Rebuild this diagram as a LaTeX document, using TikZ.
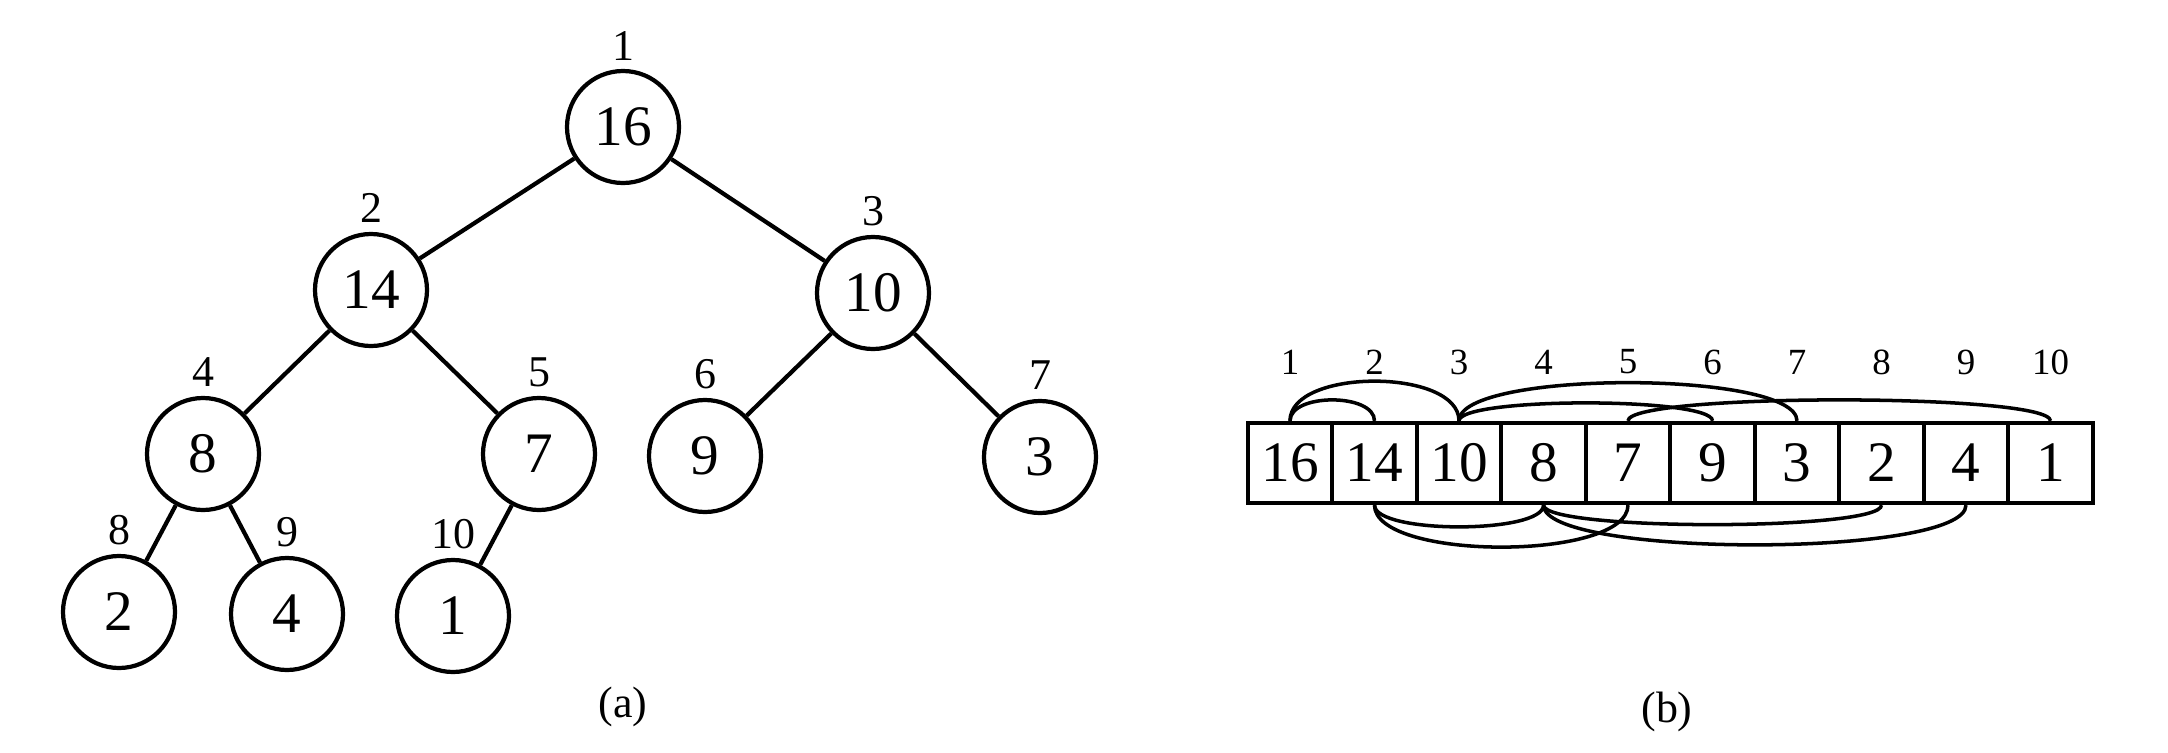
\documentclass[tikz,border=0pt]{standalone}
\usepackage{fontspec}
\setmainfont{Liberation Serif}
\usetikzlibrary{positioning}

\begin{document}
\begin{tikzpicture}[
  x=0.1mm, y=0.1mm, on grid,
  vertex/.style={draw, circle, line width=1.2pt, minimum size=11.2mm, inner sep=0pt,
    font=\fontsize{16.3}{18}\selectfont},
  cell/.style={draw, line width=1.2pt, minimum width=8.45mm, minimum height=8mm, inner sep=0pt,
    font=\fontsize{16.3}{18}\selectfont},
  tidx/.style={inner sep=0pt, font=\fontsize{12.5}{14}\selectfont},
  aidx/.style={inner sep=0pt, font=\fontsize{10.5}{12}\selectfont},
  caption/.style={inner sep=0pt, font=\fontsize{12.5}{14}\selectfont},
  edge/.style={line width=1.2pt},
  link/.style={line width=1pt} % arcs parent -> enfant dans le tableau
]
  \useasboundingbox (0,0) rectangle (2168,-752);

  % --- Arbre (a) ---
  \node[vertex] (n1) at (623,-127) {16};
  \node[vertex, below left=16.3mm and 25.2mm of n1] (n2) {14};
  \node[vertex, below right=16.6mm and 25mm of n1] (n3) {10};
  \node[vertex, below left=16.4mm and 16.8mm of n2] (n4) {8};
  \node[vertex, below right=16.4mm and 16.8mm of n2] (n5) {7};
  \node[vertex, below left=16.3mm and 16.8mm of n3] (n6) {9};
  \node[vertex, below right=16.4mm and 16.7mm of n3] (n7) {3};
  \node[vertex, below left=15.8mm and 8.4mm of n4] (n8) {2};
  \node[vertex, below right=16mm and 8.4mm of n4] (n9) {4};
  \node[vertex, below left=16.2mm and 8.6mm of n5] (n10) {1};

  % --- Indices de l'arbre ---
  \node[tidx, above=8.1mm of n1] (t1) {1};
  \node[tidx, above=8.2mm of n2] (t2) {2};
  \node[tidx, above=8.2mm of n3] (t3) {3};
  \node[tidx, above=8.2mm of n4] (t4) {4};
  \node[tidx, above=8.2mm of n5] (t5) {5};
  \node[tidx, above=8.2mm of n6] (t6) {6};
  \node[tidx, above=8.2mm of n7] (t7) {7};
  \node[tidx, above=8.2mm of n8] (t8) {8};
  \node[tidx, above=8.2mm of n9] (t9) {9};
  \node[tidx, above=8.2mm of n10] (t10) {10};

  \draw[edge] (n1) -- (n2);
  \draw[edge] (n1) -- (n3);
  \draw[edge] (n2) -- (n4);
  \draw[edge] (n2) -- (n5);
  \draw[edge] (n3) -- (n6);
  \draw[edge] (n3) -- (n7);
  \draw[edge] (n4) -- (n8);
  \draw[edge] (n4) -- (n9);
  \draw[edge] (n5) -- (n10);

  \node[caption, below=58mm of n1] (capa) {(a)};

  % --- Tableau (b) ---
  \node[cell] (c1) at (1290,-463) {16};
  \node[cell, right=8.45mm of c1] (c2) {14};
  \node[cell, right=8.45mm of c2] (c3) {10};
  \node[cell, right=8.45mm of c3] (c4) {8};
  \node[cell, right=8.45mm of c4] (c5) {7};
  \node[cell, right=8.45mm of c5] (c6) {9};
  \node[cell, right=8.45mm of c6] (c7) {3};
  \node[cell, right=8.45mm of c7] (c8) {2};
  \node[cell, right=8.45mm of c8] (c9) {4};
  \node[cell, right=8.45mm of c9] (c10) {1};

  \node[aidx, above=10.1mm of c1] (i1) {1};
  \node[aidx, above=10.1mm of c2] (i2) {2};
  \node[aidx, above=10.1mm of c3] (i3) {3};
  \node[aidx, above=10.1mm of c4] (i4) {4};
  \node[aidx, above=10.1mm of c5] (i5) {5};
  \node[aidx, above=10.1mm of c6] (i6) {6};
  \node[aidx, above=10.1mm of c7] (i7) {7};
  \node[aidx, above=10.1mm of c8] (i8) {8};
  \node[aidx, above=10.1mm of c9] (i9) {9};
  \node[aidx, above=10.1mm of c10] (i10) {10};

  % arcs au-dessus
  \draw[link] (c1.north) .. controls +(90:2.8mm) and +(90:2.8mm) .. (c2.north);
  \draw[link] (c1.north) .. controls +(90:5.3mm) and +(90:5.3mm) .. (c3.north);
  \draw[link] (c3.north) .. controls +(90:2.4mm) and +(90:2.4mm) .. (c6.north);
  \draw[link] (c3.north) .. controls +(90:5.1mm) and +(90:5.1mm) .. (c7.north);
  \draw[link] (c5.north) .. controls +(90:2.8mm) and +(90:2.8mm) .. (c10.north);
  % arcs en dessous
  \draw[link] (c2.south) .. controls +(270:2.9mm) and +(270:2.9mm) .. (c4.south);
  \draw[link] (c2.south) .. controls +(270:5.6mm) and +(270:5.6mm) .. (c5.south);
  \draw[link] (c4.south) .. controls +(270:2.6mm) and +(270:2.6mm) .. (c8.south);
  \draw[link] (c4.south) .. controls +(270:5.3mm) and +(270:5.3mm) .. (c9.south);

  \node[caption, below=24.9mm of c5, xshift=3.9mm] (capb) {(b)};

\end{tikzpicture}
\end{document}
